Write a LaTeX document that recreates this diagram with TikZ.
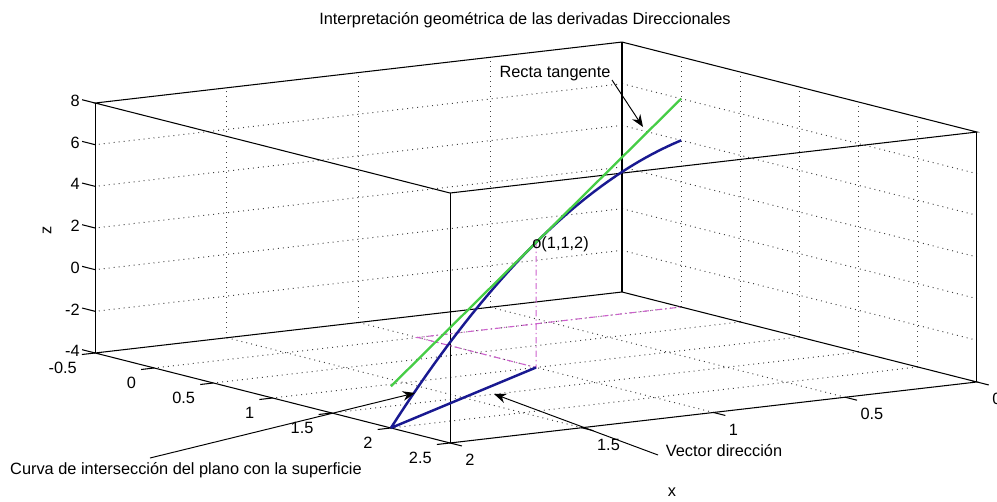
\documentclass[tikz,border=0pt]{standalone}
\usepackage{fontspec}
\setmainfont{Liberation Sans}
\usetikzlibrary{arrows.meta}

\definecolor{curveblue}{RGB}{25,25,145}
\definecolor{tangentgreen}{RGB}{70,205,70}
\definecolor{guidemagenta}{RGB}{205,95,205}

\begin{document}
\begin{tikzpicture}[
    x=0.02cm, y=-0.02cm,
    >={Stealth[length=7pt, width=5.5pt]},
    boxedge/.style={black, line width=0.6pt},
    gridline/.style={black!75, line width=0.55pt, dash pattern=on 0.55pt off 2.3pt},
    ticktext/.style={font=\fontsize{9.3}{11}\selectfont, inner sep=0pt},
    annot/.style={font=\fontsize{9.3}{11}\selectfont, inner sep=0pt},
    callout/.style={->, black, line width=0.55pt},
    curve/.style={curveblue, line width=1.4pt},
    tangent/.style={tangentgreen, line width=1.3pt},
    guide/.style={guidemagenta, line width=0.6pt, dash pattern=on 3.5pt off 1.7pt on 0.8pt off 1.7pt}
]
    \useasboundingbox (0,0) rectangle (997,501);

    \begin{scope}[shift={(681.17,223.67)}, x={(2.36667cm,-0.6cm)}, y={(-5.27cm,-0.61cm)}, z={(0cm,0.416667cm)}]
        \foreach \ua in {0,0.5,1,1.5,2} {
            \draw[gridline] (\ua,0,-4) -- (\ua,2,-4);
            \draw[gridline] (\ua,0,-4) -- (\ua,0,8);
        }
        \foreach \vb in {0.5,1,1.5} {
            \draw[gridline] (-0.5,\vb,-4) -- (2.5,\vb,-4);
            \draw[gridline] (-0.5,\vb,-4) -- (-0.5,\vb,8);
        }
        \foreach \zc in {-2,0,2,4,6} {
            \draw[gridline] (-0.5,0,\zc) -- (-0.5,2,\zc);
            \draw[gridline] (-0.5,0,\zc) -- (2.5,0,\zc);
        }

        \draw[boxedge] (-0.5,2,-4) -- (-0.5,0,-4) -- (2.5,0,-4) -- (2.5,2,-4) -- cycle;
        \draw[boxedge] (-0.5,2,8) -- (-0.5,0,8) -- (2.5,0,8) -- (2.5,2,8) -- cycle;
        \foreach \ua/\vb in {-0.5/2, -0.5/0, 2.5/0, 2.5/2}
            \draw[boxedge] (\ua,\vb,-4) -- (\ua,\vb,8);

        \foreach \zc [count=\i] in {-4,-2,0,2,4,6,8} {
            \draw[boxedge] (-0.5,2,\zc) -- (-0.61,2,\zc);
            \node[ticktext, anchor=east, xshift=-0.3cm, yshift=0.04cm] (ztick\i) at (-0.5,2,\zc) {\zc};
        }
        \foreach \ua [count=\i] in {-0.5,0,0.5,1,1.5,2,2.5} {
            \draw[boxedge] (\ua,2,-4) -- (\ua,2.05,-4);
            \node[ticktext, anchor=east, xshift=-0.36cm, yshift=-0.3cm] (utick\i) at (\ua,2,-4) {\ua};
        }
        \foreach \vb [count=\i] in {0,0.5,1,1.5,2} {
            \draw[boxedge] (2.5,\vb,-4) -- (2.6,\vb,-4);
            \node[ticktext, anchor=west, xshift=0.3cm, yshift=-0.34cm] (vtick\i) at (2.5,\vb,-4) {\vb};
        }

        \coordinate (tanpt) at (1,1,2);
        \coordinate (footpt) at (1,1,-4);
        \coordinate (edgept) at (0,1,-4);
        \coordinate (cornerpt) at (0,0,-4);
        \coordinate (vecend) at (2,2,-4);
        \coordinate (tantop) at (0,0,6);
        \coordinate (tanbot) at (2,2,-2);

        \draw[guide] (tanpt) -- (footpt) -- (edgept) -- (cornerpt);
        \draw[curve] plot[domain=0:2, samples=41] (\x,\x,{4-2*\x*\x});
        \draw[curve] (vecend) -- (footpt);
        \draw[tangent] (tantop) -- (tanbot);
        \node[annot, anchor=west, xshift=-0.08cm, yshift=-0.04cm] (pointlabel) at (tanpt) {o(1,1,2)};
    \end{scope}

    \node[annot] at (525, 20) (title) {Interpretación geométrica de las derivadas Direccionales};
    \node[annot] at (555, 74) (tangentlabel) {Recta tangente};
    \node[annot] at (186, 470) (curvelabel) {Curva de intersección del plano con la superficie};
    \node[annot] at (724, 451) (vectorlabel) {Vector dirección};
    \node[annot] at (672, 492) (xlabel) {x};
    \node[annot, rotate=90] at (47, 230) (zlabel) {z};

    \coordinate (tangenttail) at (612, 80);
    \coordinate (tangenttip) at (643, 127);
    \coordinate (curvetail) at (150, 458);
    \coordinate (curvetip) at (415, 393);
    \coordinate (vectortail) at (658, 455);
    \coordinate (vectortip) at (494, 394);

    \draw[callout] (tangenttail) -- (tangenttip);
    \draw[callout] (curvetail) -- (curvetip);
    \draw[callout] (vectortail) -- (vectortip);
\end{tikzpicture}
\end{document}
